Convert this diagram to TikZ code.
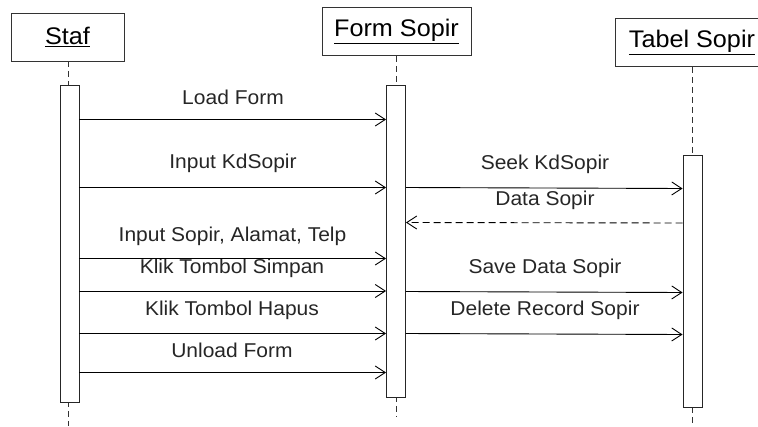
\documentclass[tikz,border=0pt]{standalone}
\usepackage{fontspec}
\usepackage{graphicx}
\setmainfont{Liberation Sans}
\usetikzlibrary{arrows.meta}
\newcommand{\wideMsg}[1]{\scalebox{1.05}[1]{#1}}
\newcommand{\wideTitle}[1]{\scalebox{1.05}[1]{\underline{#1}}}
\begin{document}
\begin{tikzpicture}[x=1pt,y=-1pt,
  obj/.style={draw=black!80,line width=0.9pt,minimum height=48pt,inner sep=0pt,font=\fontsize{24}{27}\selectfont},
  act/.style={draw=black!85,line width=0.9pt,fill=white,minimum width=19pt,inner sep=0pt},
  life/.style={draw=black!80,line width=0.8pt,dash pattern=on 6pt off 4pt},
  msg/.style={draw=black,line width=0.9pt,-{Straight Barb[length=10pt,width=13pt,line width=0.9pt]}},
  ret/.style={msg,dash pattern=on 7pt off 4pt},
  lbl/.style={inner sep=0pt,font=\fontsize{20}{23}\selectfont,text=black!85}]
\useasboundingbox (0,0) rectangle (758,426);
% objects
\node[obj,minimum width=113pt] (staf) at (67.5,37) {\wideTitle{Staf}};
\node[obj,minimum width=149pt] (form) at (396.5,31.5) {\wideTitle{Form Sopir}};
\node[obj,minimum width=154pt] (tabel) at (692,42.5) {\wideTitle{Tabel Sopir}};
% lifelines
\coordinate (stafend) at (68,426);
\coordinate (formend) at (396,416);
\coordinate (tabelend) at (692,426);
\draw[life] (staf.south -| stafend) -- (stafend);
\draw[life] (form.south -| formend) -- (formend);
\draw[life] (tabel.south -| tabelend) -- (tabelend);
% activations
\node[act,minimum height=317pt] (sa) at (69.5,243.5) {};
\node[act,minimum height=312pt] (fa) at (396,241) {};
\node[act,minimum height=252pt] (ta) at (692.5,281) {};
% labels
\node[lbl] (l1) at (233,97.5) {\wideMsg{Load Form}};
\node[lbl] (l2) at (233,163.5) {\wideMsg{Input KdSopir}};
\node[lbl] (l3) at (232.5,236.5) {\wideMsg{Input Sopir, Alamat, Telp}};
\node[lbl] (l4) at (232,268.5) {\wideMsg{Klik Tombol Simpan}};
\node[lbl] (l5) at (232,310.5) {\wideMsg{Klik Tombol Hapus}};
\node[lbl] (l6) at (232,350.5) {\wideMsg{Unload Form}};
\node[lbl] (r1) at (545,164) {\wideMsg{Seek KdSopir}};
\node[lbl] (r2) at (545,200) {\wideMsg{Data Sopir}};
\node[lbl] (r3) at (545,268.5) {\wideMsg{Save Data Sopir}};
\node[lbl] (r4) at (545,310.5) {\wideMsg{Delete Record Sopir}};
% messages
\draw[msg] (sa.east |- 0,119.5) -- (fa.west |- 0,119.5);
\draw[msg] (sa.east |- 0,187.5) -- (fa.west |- 0,187.5);
\draw[msg] (sa.east |- 0,258.5) -- (fa.west |- 0,258.5);
\draw[msg] (sa.east |- 0,291) -- (fa.west |- 0,291);
\draw[msg] (sa.east |- 0,333.5) -- (fa.west |- 0,333.5);
\draw[msg] (sa.east |- 0,372.5) -- (fa.west |- 0,372.5);
\draw[msg] (fa.east |- 0,187.5) -- (ta.west |- 0,188.5);
\draw[ret] (ta.west |- 0,223) -- (fa.east |- 0,222.5);
\draw[msg] (fa.east |- 0,291.5) -- (ta.west |- 0,292.5);
\draw[msg] (fa.east |- 0,333.5) -- (ta.west |- 0,334.5);
\end{tikzpicture}
\end{document}
